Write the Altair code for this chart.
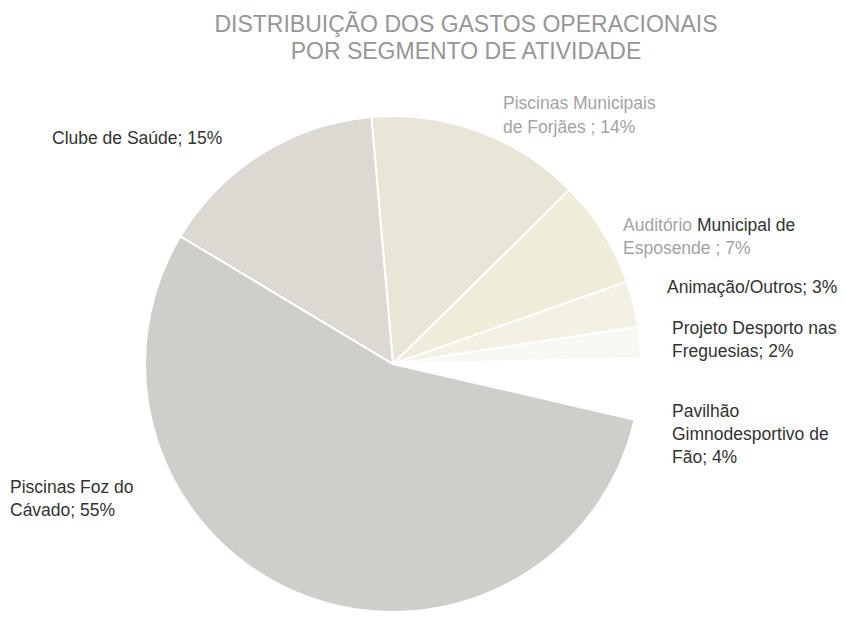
import math
import altair as alt
import pandas as pd

# ---- data ----
segments = [
    "Piscinas Municipais de Forjães",
    "Auditório Municipal de Esposende",
    "Animação/Outros",
    "Projeto Desporto nas Freguesias",
    "Pavilhão Gimnodesportivo de Fão",
    "Piscinas Foz do Cávado",
    "Clube de Saúde",
]
shares = [14, 7, 3, 2, 4, 55, 15]
slice_colors = ["#e9e6d8", "#efecd9", "#f3f1e4", "#f8f7f1", "#ffffff", "#cfcecb", "#dbd9d2"]

label_lines = [
    "Piscinas Municipais", "de Forjães ; 14%",
    "Clube de Saúde; 15%",
    "Auditório", "Municipal de", "Esposende ; 7%",
    "Animação/Outros; 3%",
    "Projeto Desporto nas", "Freguesias; 2%",
    "Pavilhão", "Gimnodesportivo de", "Fão; 4%",
    "Piscinas Foz do", "Cávado; 55%",
]
label_x = [495, 495, 44, 615, 689, 615, 659, 664, 664, 664, 664, 664, 2, 2]
label_y = [31, 55, 66, 153, 153, 176, 215, 256, 279, 339, 362, 385, 415, 438]
label_color = ["#a3a3a3", "#a3a3a3", "#333333", "#a3a3a3", "#333333", "#a3a3a3",
               "#333333", "#333333", "#333333", "#333333", "#333333", "#333333",
               "#333333", "#333333"]

title_lines = ["DISTRIBUIÇÃO DOS GASTOS OPERACIONAIS", "POR SEGMENTO DE ATIVIDADE"]

# ---- layout ----
W, H = 830, 542
CX, CY, R = 385, 286, 248
START = math.radians(-5)

df = pd.DataFrame({"segment": segments, "share": shares, "order": list(range(len(segments)))})
labels = pd.DataFrame({"text": label_lines, "x": label_x, "y": label_y, "c": label_color})

pie = alt.Chart(df).mark_arc(radius=R, stroke="#ffffff", strokeWidth=2).encode(
    theta=alt.Theta("share:Q", stack=True,
                    scale=alt.Scale(range=[START, START + 2 * math.pi])),
    order=alt.Order("order:Q"),
    color=alt.Color("segment:N", scale=alt.Scale(domain=segments, range=slice_colors), legend=None),
    x=alt.value(CX),
    y=alt.value(CY),
    tooltip=["segment:N", "share:Q"],
)

text = alt.Chart(labels).mark_text(
    align="left", baseline="alphabetic", font="Liberation Sans", fontSize=17.5
).encode(
    x=alt.X("x:Q", scale=None),
    y=alt.Y("y:Q", scale=None),
    text="text:N",
    color=alt.Color("c:N", scale=None),
)

chart = alt.layer(pie, text).properties(
    width=W,
    height=H,
    autosize=alt.AutoSizeParams(type="none"),
    padding={"top": 70, "left": 0, "right": 0, "bottom": 0},
    title=alt.TitleParams(
        text=title_lines,
        fontSize=23,
        font="Liberation Sans",
        fontWeight="normal",
        color="#969696",
        anchor="middle",
        dx=43,
        offset=14,
        lineHeight=27,
    ),
).configure_view(stroke=None)

chart.save("out.html", embed_options={"renderer": "svg", "actions": False})
